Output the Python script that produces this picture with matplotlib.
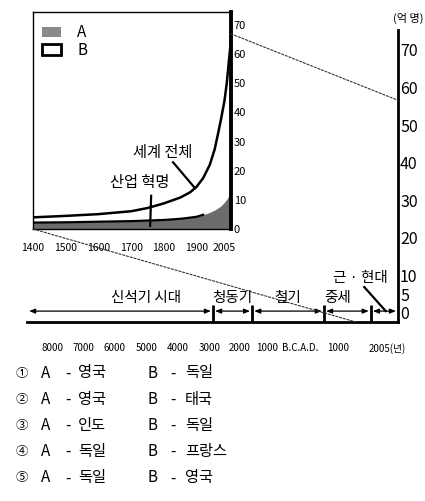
import numpy as np
import matplotlib
matplotlib.use('Agg')
import matplotlib.pyplot as plt
import matplotlib.transforms as mtransforms
from matplotlib.patches import Patch, ConnectionPatch

plt.rcParams['font.family'] = ['Noto Sans CJK KR', 'DejaVu Sans']

# inset: population 1400-2005 (억 명)
years = [1400, 1500, 1600, 1700, 1750, 1800, 1850, 1880, 1900, 1920, 1940, 1955,
         1965, 1975, 1985, 1992, 1998, 2005]
world = [4.0, 4.5, 5.1, 6.1, 7.2, 8.8, 10.8, 12.6, 14.5, 17.5, 22.0, 27.3,
         32.5, 38.0, 44.0, 50.0, 57.0, 65.0]
pop_a = [2.2, 2.3, 2.5, 2.7, 2.9, 3.1, 3.5, 3.9, 4.2, 4.9, 5.7, 6.5,
         7.2, 8.0, 9.2, 10.2, 11.2, 12.2]
inset_xticks = [1400, 1500, 1600, 1700, 1800, 1900, 2005]
inset_yticks = [0, 10, 20, 30, 40, 50, 60, 70]

# main: time line (years, B.C. negative)
period_names = ['신석기 시대', '청동기', '철기', '중세', '근 · 현대']
period_bounds = [-8800, -2900, -1550, 630, 1550, 2005]
label_years = [-5030, -2270, -360, 1000, 1370]
time_ticks = [-8000, -7000, -6000, -5000, -4000, -3000, -2000, -1000, 0, 1000, 2005]
time_labels = ['8000', '7000', '6000', '5000', '4000', '3000', '2000', '1000',
               'B.C.A.D.', '1000', '2005(년)']
main_yticks = [0, 5, 10, 20, 30, 40, 50, 60, 70]

# answer choices
markers = ['①', '②', '③', '④', '⑤']
choice_a = ['영국', '영국', '인도', '독일', '독일']
choice_b = ['독일', '태국', '독일', '프랑스', '영국']

W, H = 425, 501
fig = plt.figure(figsize=(W / 100, H / 100), dpi=100)


def px(x, y):
    return x / W, 1 - y / H


# schematic (uneven) time axis
anchor_years = [-8800, -8000, -7000, -6000, -5000, -4000, -3000, -2000, -1000, 0, 1000, 2005]
anchor_pos = [0, 25, 56, 88, 120, 151, 183, 213, 240, 273, 311, 371]


def fwd(v):
    return np.interp(v, anchor_years, anchor_pos)


def inv(p):
    return np.interp(p, anchor_pos, anchor_years)


ax = fig.add_axes([27 / W, 1 - 322 / H, 371 / W, 292 / H])
ax.set_facecolor('none')
ax.set_xscale('function', functions=(fwd, inv))
ax.set_xlim(period_bounds[0], period_bounds[-1])
ax.set_ylim(-2.4, 75.3)
for s in ['left', 'top']:
    ax.spines[s].set_visible(False)
ax.spines['right'].set_linewidth(2)
ax.spines['bottom'].set_linewidth(2)
ax.yaxis.tick_right()
ax.set_yticks(main_yticks)
ax.tick_params(axis='y', length=0, pad=1.5, labelsize=11.5)
ax.set_xticks(time_ticks)
ax.set_xticklabels(time_labels)
ax.tick_params(axis='x', length=0, pad=15, labelsize=7)
last = ax.xaxis.get_major_ticks()[-1].label1
last.set_transform(last.get_transform() +
                   mtransforms.ScaledTranslation(-0.11, 0, fig.dpi_scale_trans))

ax.vlines(period_bounds[1:-1], -2.4, 2.1, color='black', lw=2)
for i in range(len(period_names)):
    ax.annotate('', xy=(period_bounds[i + 1], 0.5), xytext=(period_bounds[i], 0.5),
                arrowprops=dict(arrowstyle='<|-|>,head_length=0.5,head_width=0.2',
                                color='black', lw=0.9, shrinkA=1.5, shrinkB=1.5,
                                mutation_scale=7))
for name, xl in zip(period_names[:-1], label_years[:-1]):
    ax.text(xl, 4.0, name, ha='center', va='center', fontsize=10.5)
ax.text(label_years[-1], 9.3, period_names[-1], ha='center', va='center', fontsize=10.5)
ax.plot([1440, 1800], [6.9, 0.5], color='black', lw=1.6)
fig.text(*px(408, 18), '(억 명)', ha='center', va='center', fontsize=8)

# inset
ax_in = fig.add_axes([33 / W, 1 - 229 / H, 198 / W, 217 / H])
ax_in.set_xlim(1400, 2005)
ax_in.set_ylim(0, 74.5)
ax_in.fill_between(years, 0, pop_a, color='#6b6b6b', lw=0)
ax_in.plot(years[:10], pop_a[:10], color='black', lw=1.6)
ax_in.plot(years, world, color='black', lw=1.8)
for s in ['left', 'top', 'bottom']:
    ax_in.spines[s].set_linewidth(1)
ax_in.spines['right'].set_linewidth(2.8)
ax_in.yaxis.tick_right()
ax_in.set_yticks(inset_yticks)
ax_in.tick_params(axis='y', length=0, pad=2, labelsize=8)
ax_in.set_xticks(inset_xticks)
ax_in.tick_params(axis='x', length=0, pad=10, labelsize=7.5)
last = ax_in.xaxis.get_major_ticks()[-1].label1
last.set_transform(last.get_transform() +
                   mtransforms.ScaledTranslation(-0.07, 0, fig.dpi_scale_trans))

ax_in.text(1797, 26.3, '세계 전체', ha='center', va='center', fontsize=11)
ax_in.plot([1828, 1895], [22.9, np.interp(1895, years, world)], color='black', lw=1.6)
ax_in.text(1727, 16.0, '산업 혁명', ha='center', va='center', fontsize=11)
ax_in.plot([1761, 1758], [11.4, 1.1], color='black', lw=1.6)

handles = [Patch(facecolor='#8a8a8a', edgecolor='none'),
           Patch(facecolor='white', edgecolor='black', lw=2)]
ax_in.legend(handles, ['A', 'B'], loc='upper left', bbox_to_anchor=(0.0, 0.985),
             frameon=False, fontsize=11, handlelength=1.2, handleheight=0.7,
             handletextpad=1.1, labelspacing=0.05, borderaxespad=0.2)

# dotted guides from inset to main time line
for xa, xb in [((2005, 67), (2005, 56.6)), ((1400, 0), (1300, -2.4))]:
    con = ConnectionPatch(xyA=xa, coordsA=ax_in.transData, xyB=xb, coordsB=ax.transData,
                          color='#333333', lw=0.8, linestyle=(0, (2, 1.5)))
    fig.add_artist(con)

# answer choices
for i in range(5):
    y = 373 + i * 26.2
    fig.text(*px(22, y), markers[i], ha='center', va='center', fontsize=9)
    fig.text(*px(45.5, y), 'A', ha='center', va='center', fontsize=11)
    fig.text(*px(67.5, y), '-', ha='center', va='center', fontsize=11)
    fig.text(*px(78, y), choice_a[i], ha='left', va='center', fontsize=11)
    fig.text(*px(152.5, y), 'B', ha='center', va='center', fontsize=11)
    fig.text(*px(172.5, y), '-', ha='center', va='center', fontsize=11)
    fig.text(*px(185, y), choice_b[i], ha='left', va='center', fontsize=11)

fig.savefig('out.png', dpi=100)
